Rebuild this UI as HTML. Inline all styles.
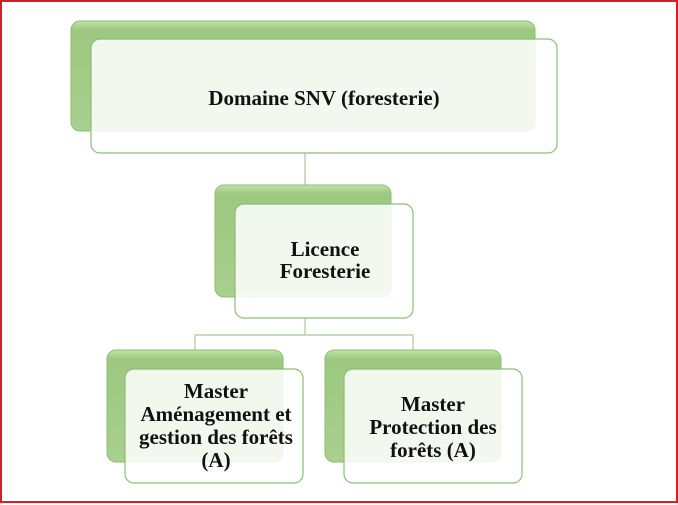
<!DOCTYPE html>
<html><head><meta charset="utf-8"><style>
html,body{margin:0;padding:0;background:#fff;}
svg{display:block}
text{font-family:"Liberation Serif",serif;font-weight:bold;fill:#111;text-anchor:middle}
</style></head><body>
<svg width="678" height="505" viewBox="0 0 678 505" xmlns="http://www.w3.org/2000/svg">
<defs>
<linearGradient id="g" x1="0" y1="0" x2="0" y2="1">
<stop offset="0" stop-color="#c3e4a8"/><stop offset="0.08" stop-color="#9cc880"/><stop offset="1" stop-color="#a9d08e"/>
</linearGradient>
</defs>
<rect x="1" y="1" width="676" height="501" fill="#fff" stroke="#d42020" stroke-width="2"/>
<g stroke="#a8c89a" stroke-width="1.2" fill="none">
<line x1="305" y1="153" x2="305" y2="204"/>
<line x1="305" y1="318" x2="305" y2="335"/>
<polyline points="195,369 195,335 413,335 413,369"/>
</g>
<g>
<rect x="71" y="21" width="464" height="110" rx="9" fill="url(#g)" stroke="#8dbd72"/>
<rect x="91" y="39" width="466" height="114" rx="9" fill="rgba(255,255,255,0.86)" stroke="#8dbd72" stroke-width="1.2"/>
<text x="324" y="105" font-size="21">Domaine SNV (foresterie)</text>

<rect x="215" y="185" width="176" height="112" rx="9" fill="url(#g)" stroke="#8dbd72"/>
<rect x="235" y="204" width="178" height="114" rx="9" fill="rgba(255,255,255,0.86)" stroke="#8dbd72" stroke-width="1.2"/>
<text x="325" y="256" font-size="21">Licence</text>
<text x="325" y="278" font-size="21">Foresterie</text>

<rect x="107" y="350" width="176" height="112" rx="9" fill="url(#g)" stroke="#8dbd72"/>
<rect x="125" y="369" width="178" height="114" rx="9" fill="rgba(255,255,255,0.86)" stroke="#8dbd72" stroke-width="1.2"/>
<text x="216" y="398" font-size="21">Master</text>
<text x="216" y="421" font-size="21">Aménagement et</text>
<text x="216" y="444" font-size="21">gestion des forêts</text>
<text x="216" y="467" font-size="21">(A)</text>

<rect x="325" y="350" width="176" height="112" rx="9" fill="url(#g)" stroke="#8dbd72"/>
<rect x="344" y="369" width="178" height="114" rx="9" fill="rgba(255,255,255,0.86)" stroke="#8dbd72" stroke-width="1.2"/>
<text x="433" y="411" font-size="21">Master</text>
<text x="433" y="434" font-size="21">Protection des</text>
<text x="433" y="457" font-size="21">forêts (A)</text>
</g>
</svg>
</body></html>
